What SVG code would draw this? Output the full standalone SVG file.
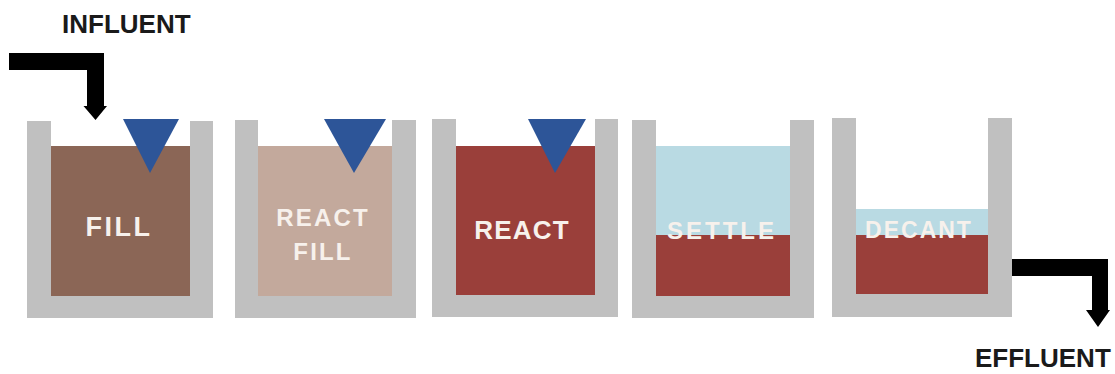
<svg xmlns="http://www.w3.org/2000/svg" width="1115" height="374" viewBox="0 0 1115 374">
<style>
.wall{fill:#c0c0c0}
.brown{fill:#8b6656}
.tan{fill:#c3a99c}
.red{fill:#9a3f3a}
.blue{fill:#b9dae3}
.tri{fill:#2d5598}
.lbl{font-family:"Liberation Sans",Arial,sans-serif;font-weight:bold;fill:#f7f1ec;text-anchor:middle}
.io{font-family:"Liberation Sans",Arial,sans-serif;font-weight:bold;fill:#1a1a1a;font-size:26px}
.arrow{fill:#000}
</style>
<rect width="1115" height="374" fill="#fff"/>
<g id="tank-fill">
<path class="wall" d="M27 121H51V296H190V121H213V318H27Z"/>
<rect class="brown" x="51" y="146" width="139" height="150"/>
<polygon class="tri" points="123,119 179,119 150,173"/>
<text class="lbl" x="119" y="236" font-size="27" letter-spacing="2.5">FILL</text>
</g>
<g id="tank-react-fill">
<path class="wall" d="M235 120H258V296H392V120H416V318H235Z"/>
<rect class="tan" x="258" y="146" width="134" height="150"/>
<polygon class="tri" points="324,119 386,119 354,173"/>
<text class="lbl" x="323" y="226" font-size="24" letter-spacing="2.2">REACT</text>
<text class="lbl" x="323" y="260" font-size="24" letter-spacing="2.2">FILL</text>
</g>
<g id="tank-react">
<path class="wall" d="M432 119H456V295H595V119H618V317H432Z"/>
<rect class="red" x="456" y="146" width="139" height="149"/>
<polygon class="tri" points="528,119 586,119 555,173"/>
<text class="lbl" x="522" y="239" font-size="26" letter-spacing="1.2">REACT</text>
</g>
<g id="tank-settle">
<path class="wall" d="M632 120H656V296H790V120H814V318H632Z"/>
<rect class="blue" x="656" y="146" width="134" height="89"/>
<rect class="red" x="656" y="235" width="134" height="61"/>
<text class="lbl" x="722" y="239" font-size="24" letter-spacing="3">SETTLE</text>
</g>
<g id="tank-decant">
<path class="wall" d="M832 118H856V294H988V118H1012V317H832Z"/>
<rect class="blue" x="856" y="209" width="132" height="26"/>
<rect class="red" x="856" y="235" width="132" height="59"/>
<text class="lbl" x="919" y="238" font-size="23" letter-spacing="2">DECANT</text>
</g>
<g id="connectors">
<path class="arrow" d="M9 53H104V106H107L95.5 120L83.5 106H87V70H9Z"/>
<path class="arrow" d="M1012 259H1108V310H1110L1098 327L1086 310H1092V276H1012Z"/>
</g>
<g id="labels">
<text class="io" x="62" y="33">INFLUENT</text>
<text class="io" x="975" y="367">EFFLUENT</text>
</g>
</svg>
